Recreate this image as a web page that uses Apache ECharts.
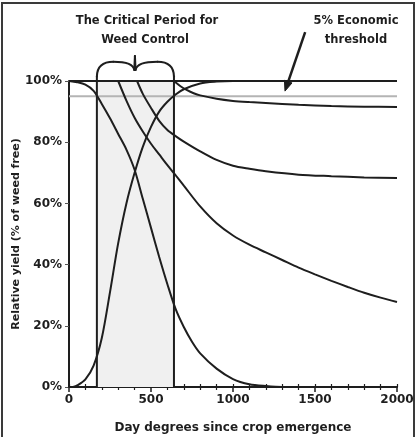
<!DOCTYPE html>
<html>
<head>
<meta charset="utf-8">
<script src="https://cdn.jsdelivr.net/npm/echarts@6/dist/echarts.min.js"></script>
<style>
html,body{margin:0;padding:0;background:#fff;}
#chart{width:417px;height:437px;}
</style>
</head>
<body>
<div id="chart"></div>
<script>
// ---- data ----
const xTickValues = [0, 500, 1000, 1500, 2000];
const yTickValues = [0, 20, 40, 60, 80, 100];

// weed-free reference (100%) and 5% economic threshold (95%)
const weedFreeX = [0, 2000];
const weedFreeY = [100, 100];
const thresholdX = [0, 2000];
const thresholdY = [95, 95];

// decreasing curve from emergence
const curveA_x = [0, 50, 100, 150, 200, 250, 300, 350, 400, 450, 500, 550, 600, 650, 700, 750, 800, 900, 1000, 1100, 1200, 1300, 2000];
const curveA_y = [100, 99.6, 98.8, 96.8, 92.5, 87.8, 82.7, 77.6, 71, 61.5, 52, 42.5, 33.6, 25.5, 19.6, 14.8, 11, 6, 2.6, 0.9, 0.3, 0, 0];

// decreasing curve ending near 28%
const curveB_x = [300, 350, 400, 450, 500, 550, 600, 650, 700, 800, 900, 1000, 1100, 1200, 1300, 1400, 1500, 1600, 1700, 1800, 1900, 2000];
const curveB_y = [100, 93.6, 88, 83.5, 79.5, 76, 72.5, 69.2, 65.8, 59, 53.5, 49.5, 46.5, 44, 41.5, 39, 36.8, 34.7, 32.7, 30.8, 29.2, 27.8];

// decreasing curve ending near 68%
const curveC_x = [415, 450, 500, 550, 600, 650, 700, 800, 900, 1000, 1100, 1200, 1400, 1600, 1800, 2000];
const curveC_y = [100, 95.8, 91.2, 87, 84, 82, 80.2, 77, 74.2, 72.3, 71.3, 70.5, 69.4, 68.9, 68.5, 68.3];

// decreasing curve ending near 91.5%
const curveD_x = [640, 680, 720, 760, 800, 900, 1000, 1100, 1200, 1400, 1600, 1800, 2000];
const curveD_y = [100, 98.3, 97, 96, 95.3, 94.2, 93.5, 93.1, 92.8, 92.2, 91.8, 91.6, 91.5];

// increasing (weed-free period) curve
const curveE_x = [25, 50, 100, 150, 200, 250, 300, 350, 400, 450, 500, 550, 600, 650, 700, 800, 900, 1000, 2000];
const curveE_y = [0, 0.5, 2.5, 7, 16, 31, 47, 60, 70, 78.5, 85, 90, 93.2, 95.6, 97.3, 99.2, 99.8, 100, 100];

// critical period bounds
const criticalStart = 170;
const criticalEnd = 640;

// brace above the critical period (data units)
const braceSegments = [
  ['M', 170, 0], ['L', 170, 101.5], ['Q', 172, 106.3, 270, 106.3],
  ['Q', 392, 106.3, 398, 103.6], ['L', 402, 108.2], ['L', 406, 103.6],
  ['Q', 412, 106.3, 540, 106.3], ['Q', 638, 106.3, 640, 101.5], ['L', 640, 0]
];
// arrow from label to threshold (data units)
const arrowFrom = [1440, 116];
const arrowTo = [1317, 96.7];

// ---- chart ----
const zip = (xs, ys) => xs.map((x, i) => [x, ys[i]]);
const INK = '#1e1e1e';
const FONT = 'DejaVu Sans';

function curve(xs, ys, extra) {
  return Object.assign({
    type: 'line', data: zip(xs, ys), showSymbol: false, symbol: 'none',
    smooth: 0.3,
    lineStyle: { color: INK, width: 2 }, z: 3, silent: true
  }, extra || {});
}

const chart = echarts.init(document.getElementById('chart'), null, { renderer: 'canvas' });

const option = {
  backgroundColor: '#ffffff',
  animation: false,
  grid: { left: 69, right: 20, top: 81, bottom: 50, containLabel: false, outerBoundsMode: 'none' },
  xAxis: [{
    type: 'value', min: 0, max: 2000, interval: 500,
    name: 'Day degrees since crop emergence', nameLocation: 'middle', nameGap: 35, nameMoveOverlap: false,
    nameTextStyle: { fontFamily: FONT, fontWeight: 'bold', fontSize: 12, color: INK },
    axisLine: { show: true, lineStyle: { color: INK, width: 2 } },
    axisTick: { show: true, length: 5, lineStyle: { color: INK, width: 1.5 } },
    minorTick: { show: true, splitNumber: 5, length: 3, lineStyle: { color: INK, width: 1.2 } },
    axisLabel: { fontFamily: FONT, fontWeight: 'bold', fontSize: 12, color: INK, margin: 7,
      formatter: v => String(v) },
    splitLine: { show: false }
  }, {
    type: 'value', min: 0, max: 2000, interval: 100, position: 'bottom',
    axisLine: { show: false },
    axisTick: { show: true, inside: true, length: 3, lineStyle: { color: INK, width: 1.2 } },
    axisLabel: { show: false }, splitLine: { show: false }
  }],
  yAxis: {
    type: 'value', min: 0, max: 100, interval: 20,
    name: 'Relative yield (% of weed free)', nameLocation: 'middle', nameGap: 47, nameRotate: 90,
    nameMoveOverlap: false,
    nameTextStyle: { fontFamily: FONT, fontWeight: 'bold', fontSize: 11, color: INK },
    axisLine: { show: true, lineStyle: { color: INK, width: 2 } },
    axisTick: { show: true, length: 4, lineStyle: { color: '#555', width: 1 } },
    axisLabel: { fontFamily: FONT, fontWeight: 'bold', fontSize: 12, color: INK, margin: 7,
      formatter: v => v + '%' },
    splitLine: { show: false }
  },
  series: [
    {
      type: 'line', data: [], silent: true,
      markArea: {
        silent: true,
        itemStyle: { color: '#f0f0f0' },
        data: [[{ coord: [criticalStart, 0] }, { coord: [criticalEnd, 100] }]]
      }
    },
    curve(thresholdX, thresholdY, { smooth: false, lineStyle: { color: '#b4b4b4', width: 2 }, z: 2 }),
    curve(weedFreeX, weedFreeY, { smooth: false }),
    curve(curveA_x, curveA_y),
    curve(curveB_x, curveB_y),
    curve(curveC_x, curveC_y),
    curve(curveD_x, curveD_y),
    curve(curveE_x, curveE_y),
    {
      type: 'custom', data: [0], clip: false, silent: true, z: 4,
      renderItem: function (params, api) {
        const children = [];
        let cur = null;
        const st = { stroke: INK, lineWidth: 2, fill: null, lineCap: 'round', lineJoin: 'round' };
        braceSegments.forEach(seg => {
          if (seg[0] === 'M') { cur = api.coord([seg[1], seg[2]]); return; }
          if (seg[0] === 'L') {
            const p = api.coord([seg[1], seg[2]]);
            children.push({ type: 'line', shape: { x1: cur[0], y1: cur[1], x2: p[0], y2: p[1] }, style: st });
            cur = p;
          } else if (seg[0] === 'Q') {
            const c = api.coord([seg[1], seg[2]]);
            const p = api.coord([seg[3], seg[4]]);
            children.push({ type: 'bezierCurve', shape: { x1: cur[0], y1: cur[1], cpx1: c[0], cpy1: c[1], x2: p[0], y2: p[1] }, style: st });
            cur = p;
          }
        });
        // arrow
        const a = api.coord(arrowFrom), b = api.coord(arrowTo);
        const dx = b[0] - a[0], dy = b[1] - a[1];
        const len = Math.sqrt(dx * dx + dy * dy);
        const ux = dx / len, uy = dy / len;
        const hl = 10, hw = 4;
        const base = [b[0] - ux * hl, b[1] - uy * hl];
        children.push({ type: 'line', shape: { x1: a[0], y1: a[1], x2: base[0], y2: base[1] }, style: { stroke: INK, lineWidth: 2.5 } });
        children.push({ type: 'polygon', shape: { points: [
          [b[0], b[1]], [base[0] - uy * hw, base[1] + ux * hw], [base[0] + uy * hw, base[1] - ux * hw]
        ] }, style: { fill: INK, stroke: INK, lineWidth: 1 } });
        return { type: 'group', children: children };
      }
    }
  ],
  graphic: [
    { type: 'rect', shape: { x: 2, y: 3, width: 412, height: 460 }, style: { fill: null, stroke: '#3a3a3a', lineWidth: 2 }, silent: true },
    { type: 'text', x: 147, y: 21, style: { text: 'The Critical Period for', font: 'bold 11.5px "DejaVu Sans"', fill: INK, textAlign: 'center', textVerticalAlign: 'middle' } },
    { type: 'text', x: 145, y: 40, style: { text: 'Weed Control', font: 'bold 11.5px "DejaVu Sans"', fill: INK, textAlign: 'center', textVerticalAlign: 'middle' } },
    { type: 'text', x: 356, y: 21, style: { text: '5% Economic', font: 'bold 11.5px "DejaVu Sans"', fill: INK, textAlign: 'center', textVerticalAlign: 'middle' } },
    { type: 'text', x: 356, y: 40, style: { text: 'threshold', font: 'bold 11.5px "DejaVu Sans"', fill: INK, textAlign: 'center', textVerticalAlign: 'middle' } }
  ]
};
chart.setOption(option);
</script>
</body>
</html>
